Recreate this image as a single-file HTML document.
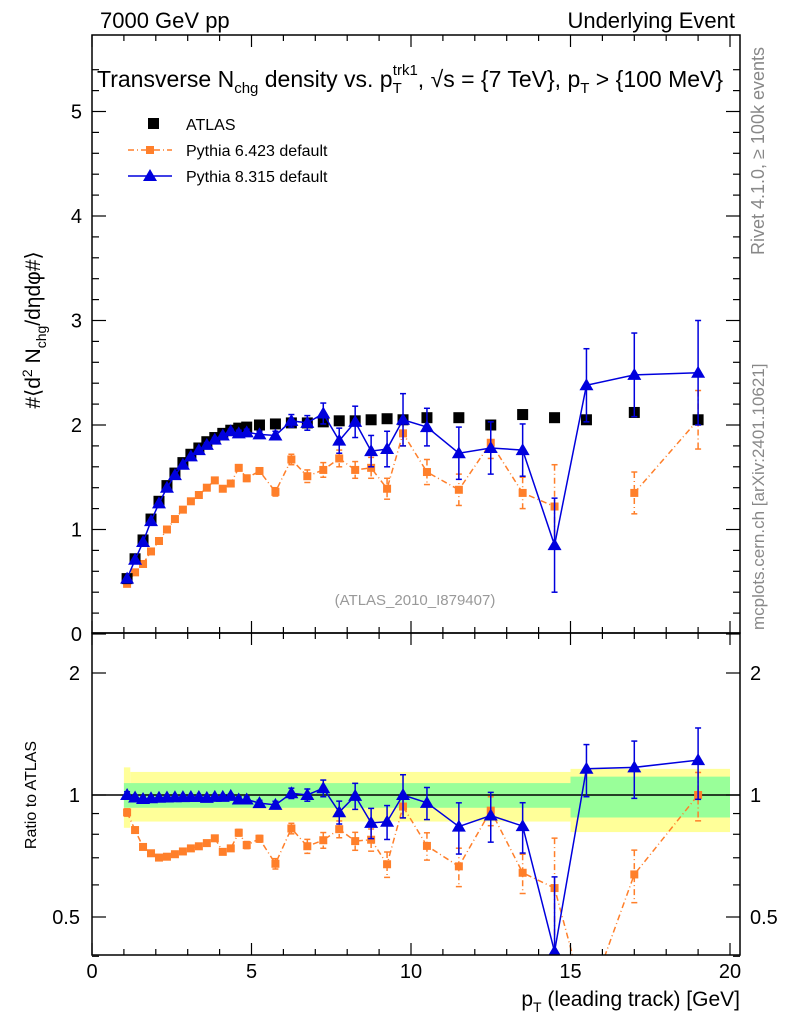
<!DOCTYPE html>
<html><head><meta charset="utf-8"><style>
html,body{margin:0;background:#fff;width:786px;height:1024px;overflow:hidden}
svg{font-family:"Liberation Sans",sans-serif;display:block}
</style></head><body>
<svg id="c" width="786" height="1024" style="position:absolute;left:0;top:0" xmlns="http://www.w3.org/2000/svg"></svg>
<script>
const ptVals=[1.1,1.35,1.6,1.85,2.1,2.35,2.6,2.85,3.1,3.35,3.6,3.85,4.1,4.35,4.6,4.85,5.25,5.75,6.25,6.75,7.25,7.75,8.25,8.75,9.25,9.75,10.5,11.5,12.5,13.5,14.5,15.5,17,19];
const atlasVals=[0.53,0.72,0.9,1.1,1.27,1.42,1.54,1.64,1.72,1.78,1.84,1.88,1.92,1.95,1.97,1.98,2.0,2.01,2.02,2.02,2.03,2.04,2.04,2.05,2.06,2.05,2.07,2.07,2.0,2.1,2.07,2.05,2.12,2.05];
const p6Vals=[0.48,0.59,0.67,0.79,0.89,1.0,1.1,1.19,1.27,1.33,1.4,1.47,1.39,1.44,1.59,1.49,1.56,1.36,1.67,1.51,1.57,1.68,1.57,1.59,1.39,1.92,1.55,1.38,1.83,1.35,1.22,null,1.35,2.05];
const p6Err=[0.01,0.01,0.01,0.01,0.01,0.01,0.01,0.01,0.01,0.01,0.01,0.02,0.02,0.02,0.03,0.03,0.03,0.04,0.05,0.06,0.07,0.08,0.08,0.1,0.1,0.12,0.12,0.15,0.15,0.15,0.4,0,0.2,0.28];
const p8Vals=[0.53,0.71,0.88,1.08,1.25,1.4,1.52,1.62,1.7,1.76,1.81,1.86,1.9,1.94,1.92,1.93,1.91,1.9,2.04,2.02,2.11,1.85,2.03,1.75,1.77,2.05,1.98,1.73,1.78,1.76,0.85,2.38,2.48,2.5];
const p8Err=[0.01,0.01,0.01,0.01,0.01,0.01,0.01,0.01,0.01,0.01,0.02,0.02,0.02,0.02,0.03,0.03,0.03,0.04,0.06,0.07,0.1,0.12,0.15,0.15,0.17,0.25,0.18,0.25,0.25,0.25,0.45,0.35,0.4,0.5];
const bandGreen=0.07, bandYellow=0.14;

const NS="http://www.w3.org/2000/svg", svg=document.getElementById('c');
function el(t,a,p){const e=document.createElementNS(NS,t);for(const k in a)e.setAttribute(k,a[k]);(p||svg).appendChild(e);return e;}
const X=v=>92+v*31.9, Y=v=>634-v*104.5, R=r=>795-122*Math.log2(r);
const L=92,Rt=740,T=35,M=633,B=955;
const defs=el('defs',{});
const c1=el('clipPath',{id:'cm'},defs);el('rect',{x:L,y:T,width:Rt-L,height:M-T},c1);
const c2=el('clipPath',{id:'cr'},defs);el('rect',{x:L,y:M,width:Rt-L,height:B-M},c2);
const gb=el('g',{'clip-path':'url(#cr)'});

el('rect',{x:X(1),y:R(1+bandYellow+0.03),width:X(1.2)-X(1),height:R(1-bandYellow-0.03)-R(1+bandYellow+0.03),fill:'#ffff99'},gb);
el('rect',{x:X(1.2),y:R(1+bandYellow),width:X(15)-X(1.2),height:R(1-bandYellow)-R(1+bandYellow),fill:'#ffff99'},gb);
el('rect',{x:X(15),y:R(1+bandYellow+0.02),width:X(20)-X(15),height:R(1-bandYellow-0.05)-R(1+bandYellow+0.02),fill:'#ffff99'},gb);
el('rect',{x:X(1),y:R(1+bandGreen),width:X(15)-X(1),height:R(1-bandGreen)-R(1+bandGreen),fill:'#99ff99'},gb);
el('rect',{x:X(15),y:R(1+bandGreen+0.04),width:X(20)-X(15),height:R(1-bandGreen-0.05)-R(1+bandGreen+0.04),fill:'#99ff99'},gb);
el('line',{x1:L,x2:Rt,y1:R(1),y2:R(1),stroke:'#000','stroke-width':1.5},gb);

function series(g,vals,errs,yf,color,dash,marker,ratio){
  let d='',pen=false;
  vals.forEach((v,i)=>{
    let val=v;
    if(ratio){val=(v===null)?0.3:v/atlasVals[i];}
    if(val===null){pen=false;return;}
    d+=(pen?'L':'M')+X(ptVals[i])+' '+yf(val);pen=true;
  });
  if(color)el('path',{d,fill:'none',stroke:color,'stroke-width':1.5,'stroke-dasharray':dash||'none'},g);
  vals.forEach((v,i)=>{
    if(v===null)return;
    const val=ratio?v/atlasVals[i]:v, e=errs?(ratio?errs[i]/atlasVals[i]:errs[i]):0;
    const x=X(ptVals[i]),y=yf(val);
    if(e>0){const y1=yf(val+e),y2=yf(Math.max(val-e,0.35));
      el('line',{x1:x,x2:x,y1,y2,stroke:marker.c,'stroke-width':1.5,'stroke-dasharray':dash||'none'},g);
      el('line',{x1:x-3,x2:x+3,y1,y2:y1,stroke:marker.c,'stroke-width':1.5},g);
      el('line',{x1:x-3,x2:x+3,y1:y2,y2,stroke:marker.c,'stroke-width':1.5},g);}
    let m;
    if(marker.t==='sq')m=el('rect',{x:x-marker.s/2,y:y-marker.s/2,width:marker.s,height:marker.s,fill:marker.c},g);
    else m=el('polygon',{points:`${x},${y-7} ${x-7},${y+5} ${x+7},${y+5}`,fill:marker.c},g);
    
    
  });
}
const gm=el('g',{'clip-path':'url(#cm)'});

series(gm,p6Vals,p6Err,Y,'#ff7f2a','6,3,1,3',{t:'sq',s:8,c:'#ff7f2a'},false);
series(gm,atlasVals,null,Y,null,null,{t:'sq',s:11,c:'#000'},false);
series(gm,p8Vals,p8Err,Y,'#0000dd',null,{t:'tri',c:'#0000dd'},false);
const gr=el('g',{'clip-path':'url(#cr)'});

series(gr,p6Vals,p6Err,R,'#ff7f2a','6,3,1,3',{t:'sq',s:8,c:'#ff7f2a'},true);
series(gr,p8Vals,p8Err,R,'#0000dd',null,{t:'tri',c:'#0000dd'},true);

el('rect',{x:L,y:T,width:Rt-L,height:M-T,fill:'none',stroke:'#000','stroke-width':1.5});
el('rect',{x:L,y:M,width:Rt-L,height:B-M,fill:'none',stroke:'#000','stroke-width':1.5});
const tk={stroke:'#000','stroke-width':1.2};
for(let v=0;v<=20;v++){const x=X(v),len=v%5?6:12;
  [[M,-1],[T,1],[B,-1],[M,1]].forEach(([y,s])=>el('line',Object.assign({x1:x,x2:x,y1:y,y2:y+s*len},tk)));
  if(v%5===0){const t=el('text',{x,y:978,'font-size':20,'text-anchor':'middle'});t.textContent=v;}}
for(let v=0;v<=5.6;v+=0.2){const y=Y(v);const maj=Math.abs(v-Math.round(v))<0.01,len=maj?14:7;
  el('line',Object.assign({x1:L,x2:L+len,y1:y,y2:y},tk));el('line',Object.assign({x1:Rt,x2:Rt-len,y1:y,y2:y},tk));
  if(maj){const t=el('text',{x:82,y:y+7,'font-size':20,'text-anchor':'end'});t.textContent=Math.round(v);}}
[0.4,0.5,0.6,0.7,0.8,0.9,1,2].forEach(r=>{const y=R(r),maj=(r===0.5||r===1||r===2),len=maj?14:7;
  el('line',Object.assign({x1:L,x2:L+len,y1:y,y2:y},tk));el('line',Object.assign({x1:Rt,x2:Rt-len,y1:y,y2:y},tk));
  if(maj){const t=el('text',{x:80,y:y+7,'font-size':20,'text-anchor':'end'});t.textContent=r;
    const t2=el('text',{x:750,y:y+7,'font-size':20});t2.textContent=r;}});
</script>
<svg width="786" height="1024" style="position:absolute;left:0;top:0" xmlns="http://www.w3.org/2000/svg">
<text x="100" y="28" font-size="22">7000 GeV pp</text>
<text x="735" y="28" font-size="22" text-anchor="end">Underlying Event</text>
<text x="97" y="87" font-size="23">Transverse N<tspan font-size="15" dy="6">chg</tspan><tspan dy="-6"> density vs. p</tspan><tspan font-size="15" dy="6">T</tspan><tspan font-size="15" dx="-9" dy="-18">trk1</tspan><tspan dy="12">, √s = {7 TeV}, p</tspan><tspan font-size="15" dy="6">T</tspan><tspan dy="-6"> &gt; {100 MeV}</tspan></text>
<rect x="148" y="118" width="11" height="11" fill="#000"/>
<text x="186" y="130" font-size="16">ATLAS</text>
<line x1="128" x2="172" y1="150" y2="150" stroke="#ff7f2a" stroke-width="1.5" stroke-dasharray="6,3,1,3"/>
<rect x="146" y="146" width="8" height="8" fill="#ff7f2a"/>
<text x="186" y="156" font-size="16">Pythia 6.423 default</text>
<line x1="128" x2="172" y1="176" y2="176" stroke="#0000dd" stroke-width="1.5"/>
<polygon points="150,169 143,181 157,181" fill="#0000dd"/>
<text x="186" y="182" font-size="16">Pythia 8.315 default</text>
<text x="415" y="605" font-size="15" fill="#999" text-anchor="middle">(ATLAS_2010_I879407)</text>
<text transform="translate(40,330) rotate(-90)" font-size="21" text-anchor="middle">#⟨d<tspan font-size="14" dy="-8">2</tspan><tspan dy="8"> N</tspan><tspan font-size="14" dy="6">chg</tspan><tspan dy="-6">/dηdφ#⟩</tspan></text>
<text transform="translate(36,795) rotate(-90)" font-size="16" text-anchor="middle">Ratio to ATLAS</text>
<text x="740" y="1006" font-size="21" text-anchor="end">p<tspan font-size="14" dy="6">T</tspan><tspan dy="-6"> (leading track) [GeV]</tspan></text>
<text transform="translate(764,255) rotate(-90)" font-size="18" fill="#888">Rivet 4.1.0, ≥ 100k events</text>
<text transform="translate(764,630) rotate(-90)" font-size="17" fill="#888">mcplots.cern.ch [arXiv:2401.10621]</text>
</svg>
</body></html>
